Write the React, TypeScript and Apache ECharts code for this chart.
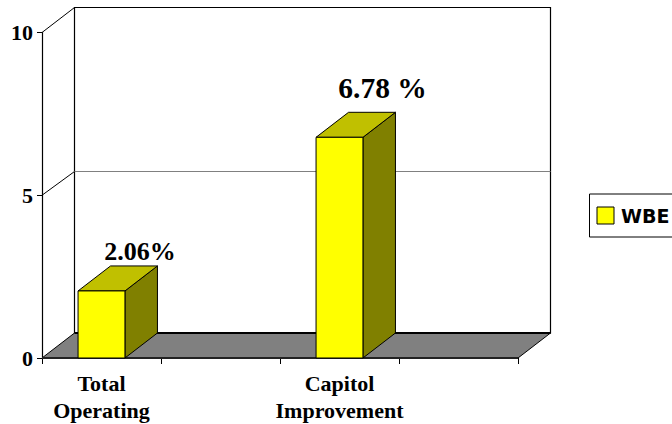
import React, { useEffect, useRef } from "react";
import * as echarts from "echarts";

const categories = ["Total\nOperating", "", "Capitol\nImprovement", ""];
const wbeValues = [2.06, null, 6.78, null];
const valueLabels = ["2.06%", "", "6.78 %", ""];
const labelFontSizes = [26, 0, 29.5, 0];
const labelShifts = [
  [38.5, -39],
  [0, 0],
  [43, -49],
  [0, 0],
];
const yTicks = [0, 5, 10];

const DEPTH_X = 32.5;
const DEPTH_Y = -25;
const SERIF = '"Liberation Serif", "Times New Roman", serif';

// Left wall, back wall, floor and gridlines of the box, one item per y tick.
function renderWall(params: any, api: any) {
  const cs = params.coordSys;
  const tick = api.value(0);
  const y = api.coord([0, tick])[1];
  const left = cs.x;
  const right = cs.x + cs.width;
  const children: any[] = [];
  const lineBetween = (x1: number, y1: number, x2: number, y2: number, stroke: string, lineWidth: number) => ({
    type: "line",
    shape: { x1, y1, x2, y2 },
    style: { stroke, lineWidth, fill: "none" },
  });
  if (tick === 0) {
    children.push({
      type: "rect",
      shape: { x: left + DEPTH_X, y: cs.y + DEPTH_Y, width: cs.width, height: cs.height },
      style: { fill: "#fff", stroke: "#000", lineWidth: 1.2 },
    });
    children.push({
      type: "polygon",
      shape: {
        points: [
          [left, y],
          [right, y],
          [right + DEPTH_X, y + DEPTH_Y],
          [left + DEPTH_X, y + DEPTH_Y],
        ],
      },
      style: { fill: "#808080", stroke: "#000", lineWidth: 1 },
    });
    children.push(lineBetween(left + DEPTH_X, y + DEPTH_Y, right + DEPTH_X, y + DEPTH_Y, "#000", 2));
    children.push(lineBetween(left, y, right, y, "#222", 2));
  } else {
    const isTop = tick === yTicks[yTicks.length - 1];
    const backY = isTop ? y + DEPTH_Y : Math.ceil(y + DEPTH_Y) + 0.5;
    children.push(lineBetween(left, y, left + DEPTH_X, backY, "#000", 1));
    if (!isTop) {
      children.push(lineBetween(left + DEPTH_X, backY, right + DEPTH_X, backY, "#808080", 1));
    }
  }
  return { type: "group", children };
}

// One extruded bar: front, top and side faces plus its value text.
function renderBar(params: any, api: any) {
  const idx = api.value(0);
  const [cx, top] = api.coord([idx, api.value(1)]);
  const [, base] = api.coord([idx, 0]);
  const halfW = api.size([1, 0])[0] * 0.197;
  const x0 = cx - halfW;
  const x1 = cx + halfW;
  const edge = { stroke: "#000", lineWidth: 1 };
  const [shiftX, shiftY] = labelShifts[idx];
  return {
    type: "group",
    children: [
      {
        type: "polygon",
        shape: { points: [[x1, top], [x1 + DEPTH_X, top + DEPTH_Y], [x1 + DEPTH_X, base + DEPTH_Y], [x1, base]] },
        style: { fill: "#808000", ...edge },
      },
      {
        type: "polygon",
        shape: { points: [[x0, top], [x0 + DEPTH_X, top + DEPTH_Y], [x1 + DEPTH_X, top + DEPTH_Y], [x1, top]] },
        style: { fill: "#c0c000", ...edge },
      },
      {
        type: "rect",
        shape: { x: x0, y: top, width: x1 - x0, height: base - top },
        style: { fill: "#ffff00", ...edge },
      },
      {
        type: "text",
        x: cx + shiftX,
        y: top + shiftY,
        style: {
          text: valueLabels[idx],
          fill: "#000",
          font: `bold ${labelFontSizes[idx]}px ${SERIF}`,
          textAlign: "center",
          textVerticalAlign: "middle",
        },
      },
    ],
  };
}

export default function App() {
  const ref = useRef<HTMLDivElement>(null);
  useEffect(() => {
    const chart = echarts.init(ref.current!, null, { renderer: "svg" });
    chart.setOption({
      animation: false,
      backgroundColor: "#fff",
      grid: { left: 42, right: 154, top: 32.5, bottom: 65.5 },
      legend: {
        left: 589.5,
        top: 194,
        orient: "horizontal",
        data: [{ name: "WBE", icon: "rect", itemStyle: { color: "#ffff00", borderColor: "#000", borderWidth: 1 } }],
        itemWidth: 17,
        itemHeight: 17,
        itemGap: 0,
        padding: [12, 20, 12, 7],
        borderColor: "#000",
        borderWidth: 1,
        selectedMode: false,
        textStyle: {
          fontFamily: '"DejaVu Sans", sans-serif',
          fontWeight: "bold",
          fontSize: 19,
          lineHeight: 17,
          color: "#000",
          padding: [0, 0, 0, 2],
        },
      },
      xAxis: {
        type: "category",
        data: categories,
        axisLine: { show: false },
        axisTick: { show: true, length: 6, lineStyle: { color: "#000", width: 1 } },
        axisLabel: {
          interval: 0,
          margin: 12,
          color: "#000",
          fontFamily: SERIF,
          fontWeight: "bold",
          fontSize: 22,
          lineHeight: 27,
        },
      },
      yAxis: {
        type: "value",
        min: 0,
        max: 10,
        interval: 5,
        splitLine: { show: false },
        axisLine: { show: true, lineStyle: { color: "#000", width: 1.2 } },
        axisTick: { show: true, length: 5, lineStyle: { color: "#000", width: 1 } },
        axisLabel: {
          margin: 9,
          color: "#000",
          fontFamily: SERIF,
          fontWeight: "bold",
          fontSize: 22,
        },
      },
      series: [
        {
          type: "custom",
          name: "walls",
          coordinateSystem: "cartesian2d",
          clip: false,
          silent: true,
          z: 1,
          data: yTicks.map((t) => [t]),
          encode: { y: 0 },
          renderItem: renderWall,
        },
        {
          type: "custom",
          name: "WBE",
          coordinateSystem: "cartesian2d",
          clip: false,
          z: 3,
          itemStyle: { color: "#ffff00" },
          data: wbeValues.flatMap((v, i) => (v === null ? [] : [[i, v]])),
          encode: { x: 0, y: 1 },
          renderItem: renderBar,
        },
      ],
    });
    return () => chart.dispose();
  }, []);
  return <div ref={ref} style={{ position: "fixed", left: 0, top: 0, width: 672, height: 424 }} />;
}
